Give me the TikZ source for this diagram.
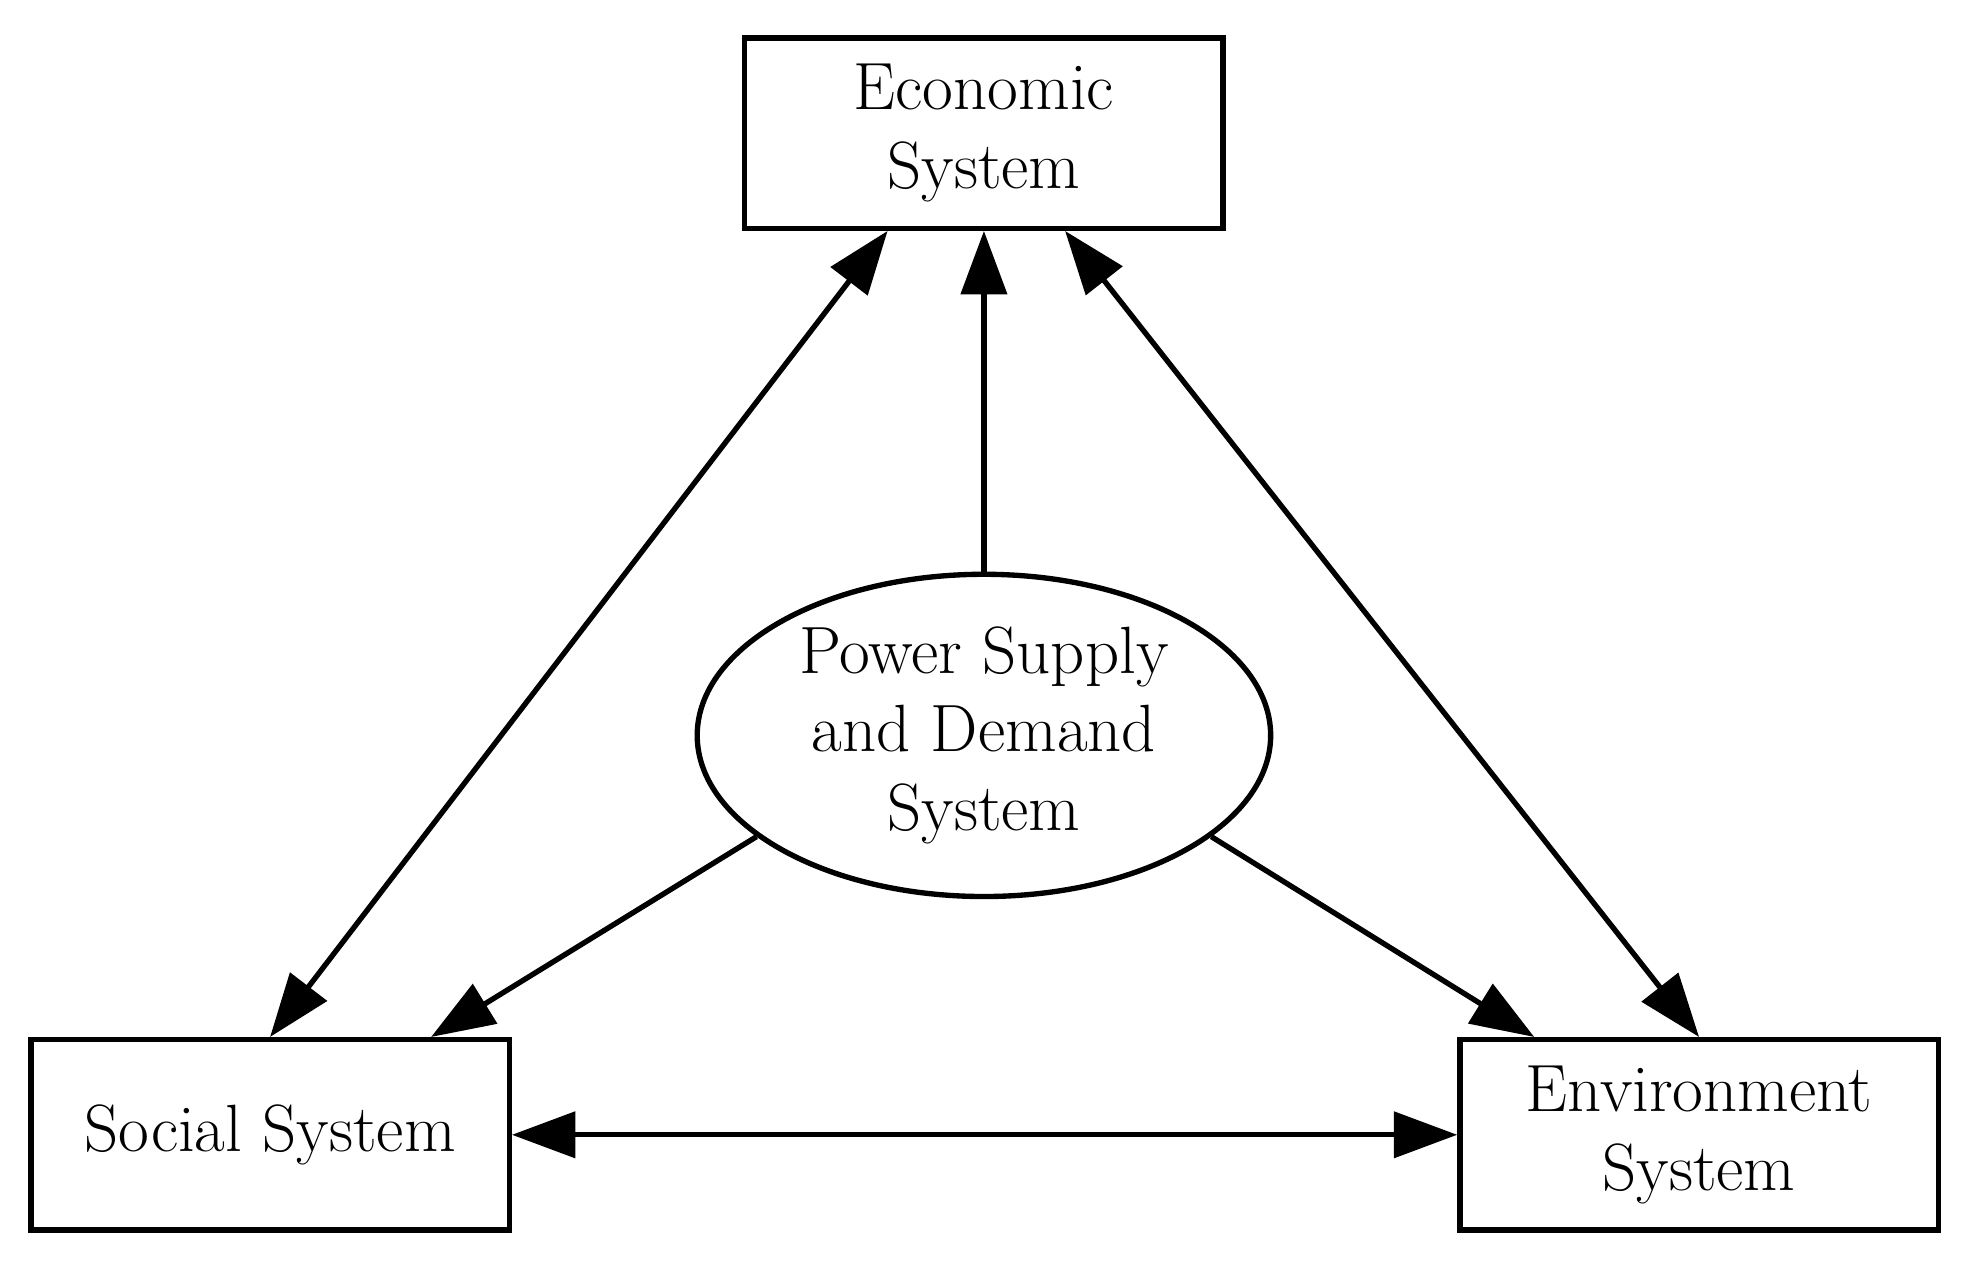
\documentclass[tikz,border=0pt]{standalone}
\usepackage{tikz}
\usetikzlibrary{arrows.meta, shapes.geometric, calc}

\begin{document}
\begin{tikzpicture}[x=0.01cm,y=0.01cm,>={Triangle[length=0.5cm,width=0.36cm]},
		line width=1.2pt,
		box/.style={draw,rectangle,minimum width=3.77cm,minimum height=1.5cm,
			align=center,font=\fontsize{15}{17.6}\selectfont},
		core/.style={draw,ellipse,minimum width=4.52cm,minimum height=2.54cm,
			inner sep=0pt,align=center,font=\fontsize{15}{17.6}\selectfont}]
		\useasboundingbox (0,0) rectangle (1560,1000);
		\node[box]  (eco) at (776,895)  {Economic\\System};
		\node[box]  (soc) at (213,105)  {Social System};
		\node[box]  (env) at (1340,105) {Environment\\System};
		\node[core] (psd) at (776,420)  {Power Supply\\and Demand\\System};
		
		\coordinate (ecoL) at ($(eco.south)+(-76,0)$);
		\coordinate (ecoR) at ($(eco.south)+(64,0)$);
		\coordinate (socR) at ($(soc.north)+(127,0)$);
		\coordinate (envL) at ($(env.north)+(-130,0)$);
		
		\draw[->] (psd.north) -- (eco.south);
		\draw[<->] (soc.north) -- (ecoL);
		\draw[<->] (ecoR) -- (env.north);
		\draw[->] (psd.204) -- (socR);
		\draw[->] (psd.336) -- (envL);
		\draw[<->] (soc.east) -- (env.west);
		\end{tikzpicture}
\end{document}
